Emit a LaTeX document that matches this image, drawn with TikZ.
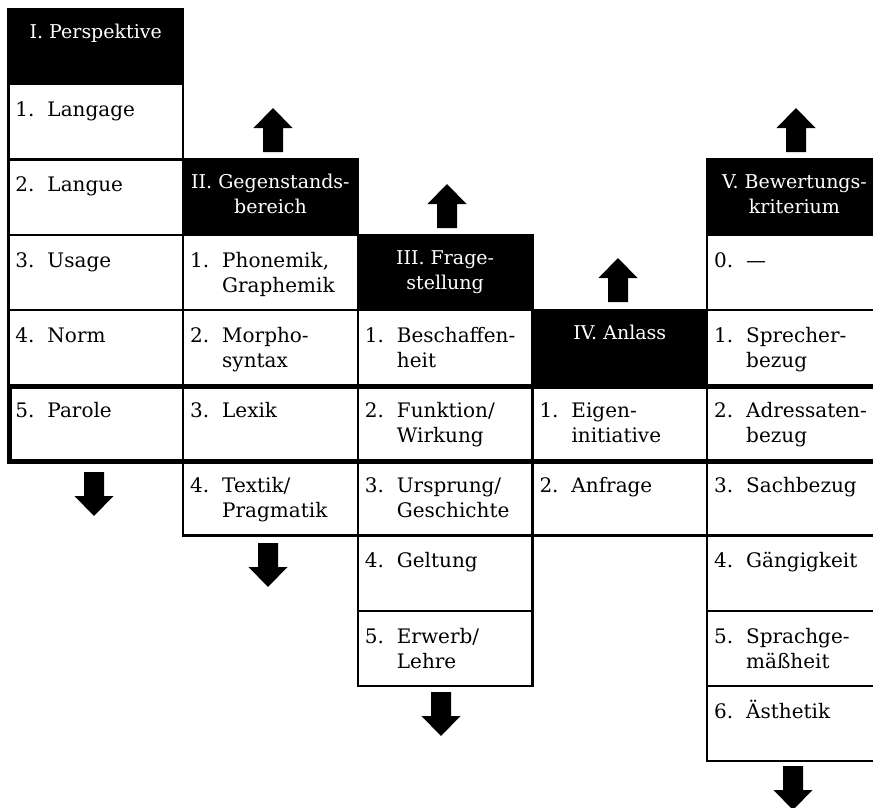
\documentclass[tikz,border=0pt]{standalone}
\usepackage{fontspec}
\setmainfont{DejaVu Serif}
\tikzset{
  cellbox/.style={draw=black, line width=2.2pt, minimum width=174.7pt, minimum height=75.2pt, inner sep=0pt, anchor=north west},
  headbox/.style={cellbox, fill=black},
  celltext/.style={anchor=base west, inner sep=0pt, font=\fontsize{20}{25}\selectfont},
  headtext/.style={anchor=base, inner sep=0pt, text=white, font=\fontsize{19}{25}\selectfont},
  focusbox/.style={draw=black, line width=4.5pt, inner sep=0pt, anchor=north west, minimum width=890pt, minimum height=75.2pt},
  uparr/.pic={\fill[black] (-10,0) -- (-10,-24) -- (-19.5,-24) -- (0,-44) -- (19.5,-24) -- (10,-24) -- (10,0) -- cycle;},
  downarr/.pic={\fill[black] (-10,0) -- (-10,24) -- (-19.5,24) -- (0,44) -- (19.5,24) -- (10,24) -- (10,0) -- cycle;}
}
\newcommand\Cell[5]{%
  \node[cellbox] (#1) at (#2,#3) {};
  \node[celltext] (#1t) at ([xshift=8pt,yshift=-33.5pt]#1.north west)
    {\makebox[32pt][l]{#4}\parbox[t]{132pt}{\raggedright #5}};
}
\newcommand\Head[4]{%
  \node[headbox] (#1) at (#2,#3) {};
  \node[headtext] (#1t) at ([yshift=-30.5pt]#1.north)
    {\parbox[t]{172pt}{\centering #4}};
}
\begin{document}
\begin{tikzpicture}[x=1pt,y=-1pt]
\useasboundingbox (0,0) rectangle (873,808);
\clip (0,0) rectangle (873,808);
% column I
\Cell{a1}{7.3}{83.2}{1.}{Langage}
\Cell{a2}{7.3}{158.4}{2.}{Langue}
\Cell{a3}{7.3}{233.6}{3.}{Usage}
\Cell{a4}{7.3}{308.8}{4.}{Norm}
\Cell{a5}{7.3}{384}{5.}{Parole}
\Head{ah}{7.3}{8}{I. Perspektive}
% column II
\Cell{b1}{182}{233.6}{1.}{Phonemik,\\Graphemik}
\Cell{b2}{182}{308.8}{2.}{Morpho-\\syntax}
\Cell{b3}{182}{384}{3.}{Lexik}
\Cell{b4}{182}{459.2}{4.}{Textik/\\Pragmatik}
\Head{bh}{182}{158.4}{II. Gegenstands-\\bereich}
% column III
\Cell{c1}{356.7}{308.8}{1.}{Beschaffen-\\heit}
\Cell{c2}{356.7}{384}{2.}{Funktion/\\Wirkung}
\Cell{c3}{356.7}{459.2}{3.}{Ursprung/\\Geschichte}
\Cell{c4}{356.7}{534.4}{4.}{Geltung}
\Cell{c5}{356.7}{609.6}{5.}{Erwerb/\\Lehre}
\Head{ch}{356.7}{233.6}{III. Frage-\\stellung}
% column IV
\Cell{d1}{531.3}{384}{1.}{Eigen-\\initiative}
\Cell{d2}{531.3}{459.2}{2.}{Anfrage}
\Head{dh}{531.3}{308.8}{IV. Anlass}
% column V
\Cell{e0}{706}{233.6}{0.}{—}
\Cell{e1}{706}{308.8}{1.}{Sprecher-\\bezug}
\Cell{e2}{706}{384}{2.}{Adressaten-\\bezug}
\Cell{e3}{706}{459.2}{3.}{Sachbezug}
\Cell{e4}{706}{534.4}{4.}{Gängigkeit}
\Cell{e5}{706}{609.6}{5.}{Sprachge-\\mäßheit}
\Cell{e6}{706}{684.8}{6.}{Ästhetik}
\Head{eh}{706}{158.4}{V. Bewertungs-\\kriterium}
% highlighted row
\node[focusbox] (focus) at (7.3,384) {};
% arrows
\pic at (273,152) {uparr};
\pic at (447,228) {uparr};
\pic at (618,302) {uparr};
\pic at (796,152) {uparr};
\pic at (94,472) {downarr};
\pic at (268,543) {downarr};
\pic at (441,692) {downarr};
\pic at (793,766) {downarr};
\end{tikzpicture}
\end{document}
